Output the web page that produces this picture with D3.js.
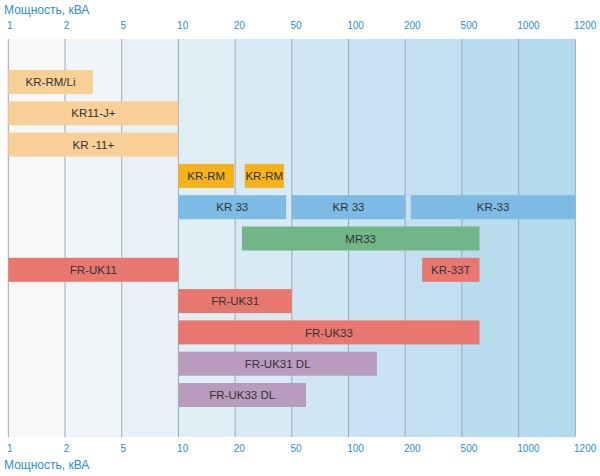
<!DOCTYPE html>
<html>
<head>
<meta charset="utf-8">
<script src="https://cdn.jsdelivr.net/npm/d3@7"></script>
<style>
  body { margin: 0; background: #fff; }
  text { font-family: "Liberation Sans", Arial, sans-serif; }
</style>
</head>
<body>
<div id="chart"></div>
<script>
// tick labels of the power axis (equally spaced categories)
var tickLabels = ["1", "2", "5", "10", "20", "50", "100", "200", "500", "1000", "1200"];

// bars: label, row, start / end as position along the tick axis
var barLabels = ["KR-RM/Li", "KR11-J+", "KR -11+", "KR-RM", "KR-RM", "KR 33", "KR 33", "KR-33",
                 "MR33", "FR-UK11", "KR-33T", "FR-UK31", "FR-UK33", "FR-UK31 DL", "FR-UK33 DL"];
var barRows   = [0, 1, 2, 3, 3, 4, 4, 4, 5, 6, 6, 7, 8, 9, 10];
var barStart  = [0, 0, 0, 3, 4.17, 3, 5.0, 7.1, 4.12, 0, 7.3, 3, 3, 3, 3];
var barEnd    = [1.49, 3, 3, 3.98, 4.86, 4.9, 7.0, 10, 8.31, 3, 8.31, 5.0, 8.31, 6.5, 5.25];
var barGroup  = ["lo", "lo", "lo", "am", "am", "bl", "bl", "bl", "gr", "rd", "rd", "rd", "rd", "pu", "pu"];

var axisTitle = "Мощность, кВА";

var colors = {lo: "#f9cf98", am: "#f5b21c", bl: "#7dbbe5", gr: "#70b687", rd: "#e8776f", pu: "#b89bbd"};

var width = 600, height = 476;
var plotTop = 39, plotBottom = 437;

var svg = d3.select("#chart").append("svg")
  .attr("width", width)
  .attr("height", height);

var x = d3.scaleLinear().domain([0, tickLabels.length - 1]).range([8.3, 575.3]);
var y = d3.scaleLinear().domain([0, 10]).range([82, 395]);
var barH = 24;

// background columns, light grey on the left to light blue on the right
var shade = d3.interpolateRgb("#f6f8fa", "#b3d9ee");
var cols = d3.range(tickLabels.length - 1);
svg.append("g").selectAll("rect")
  .data(cols)
  .enter().append("rect")
  .attr("x", function(d) { return x(d); })
  .attr("y", plotTop)
  .attr("width", function(d) { return x(d + 1) - x(d); })
  .attr("height", plotBottom - plotTop)
  .attr("fill", function(d) { return shade(d / (cols.length - 1)); });

// vertical grid lines
svg.append("g").selectAll("line")
  .data(d3.range(tickLabels.length))
  .enter().append("line")
  .attr("x1", function(d) { return x(d); })
  .attr("x2", function(d) { return x(d); })
  .attr("y1", plotTop)
  .attr("y2", plotBottom)
  .attr("stroke", "#9ea8b0")
  .attr("stroke-width", 1);

// axes, top and bottom (labels start at the tick)
var axTop = d3.axisTop(x).tickValues(d3.range(tickLabels.length))
  .tickFormat(function(d) { return tickLabels[d]; }).tickSize(0).tickPadding(0);
var axBottom = d3.axisBottom(x).tickValues(d3.range(tickLabels.length))
  .tickFormat(function(d) { return tickLabels[d]; }).tickSize(0).tickPadding(0);

var gTop = svg.append("g").attr("transform", "translate(0,28.5)").call(axTop);
var gBot = svg.append("g").attr("transform", "translate(0,451.5)").call(axBottom);
[gTop, gBot].forEach(function(g) {
  g.select(".domain").remove();
  g.selectAll("text")
    .attr("x", -1.8)
    .attr("y", 0)
    .attr("dy", "0em")
    .style("text-anchor", "start")
    .attr("fill", "#2b8fd6")
    .style("font-size", "10px")
    .style("font-family", "'Liberation Sans', Arial, sans-serif");
});

svg.append("text").attr("x", 4).attr("y", 14).text(axisTitle)
  .attr("fill", "#2b8fd6").style("font-size", "12px");
svg.append("text").attr("x", 4).attr("y", 469).text(axisTitle)
  .attr("fill", "#2b8fd6").style("font-size", "12px");

// bars
var idx = d3.range(barLabels.length);
var bars = svg.append("g").selectAll("g")
  .data(idx)
  .enter().append("g");

bars.append("rect")
  .attr("x", function(i) { return x(barStart[i]); })
  .attr("y", function(i) { return y(barRows[i]) - barH / 2; })
  .attr("width", function(i) { return x(barEnd[i]) - x(barStart[i]); })
  .attr("height", barH)
  .attr("fill", function(i) { return colors[barGroup[i]]; });

bars.append("text")
  .attr("x", function(i) { return (x(barStart[i]) + x(barEnd[i])) / 2; })
  .attr("y", function(i) { return y(barRows[i]); })
  .attr("dy", "0.36em")
  .attr("text-anchor", "middle")
  .attr("fill", "#333")
  .style("font-size", "11.5px")
  .text(function(i) { return barLabels[i]; });
</script>
</body>
</html>
